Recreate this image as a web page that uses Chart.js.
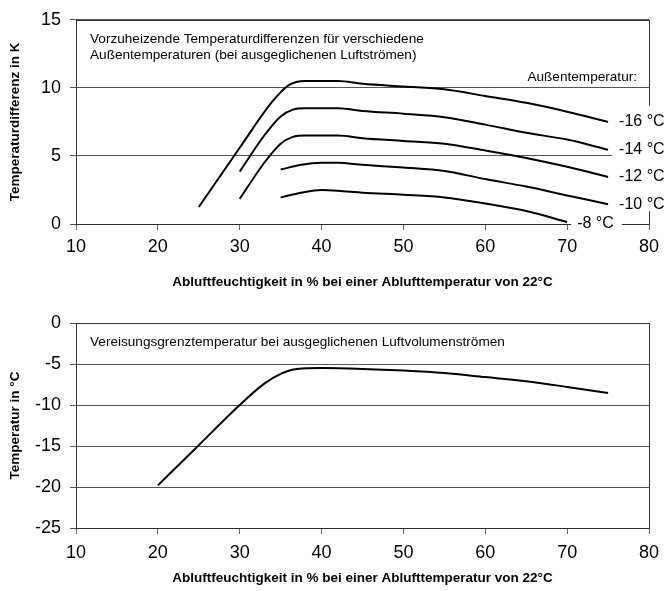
<!DOCTYPE html>
<html>
<head>
<meta charset="utf-8">
<script src="https://cdn.jsdelivr.net/npm/chart.js@4"></script>
<style>
  body { margin: 0; background: #fff; }
  .box { position: absolute; left: 0; width: 664px; }
</style>
</head>
<body>
<div class="box" style="top:0;height:296px"><canvas id="chartTop"></canvas></div>
<div class="box" style="top:296px;height:295px"><canvas id="chartBottom"></canvas></div>
<script>
// top chart: preheating temperature difference per outside temperature
const outsideTemps = ['-16 °C', '-14 °C', '-12 °C', '-10 °C', '-8 °C'];

const humM16 = [25, 30, 34, 36, 38, 40, 42, 45, 50, 55, 60, 65, 70, 75];
const diffM16 = [1.25, 5.6, 9.0, 10.2, 10.5, 10.5, 10.5, 10.3, 10.1, 9.9, 9.4, 8.9, 8.25, 7.5];

const humM14 = [30, 33, 35, 36.5, 38, 40, 42, 45, 50, 55, 60, 65, 70, 75];
const diffM14 = [3.85, 6.5, 7.9, 8.4, 8.5, 8.5, 8.5, 8.3, 8.1, 7.85, 7.3, 6.7, 6.2, 5.45];

const humM12 = [30, 33, 35, 36.5, 38, 40, 42, 45, 50, 55, 60, 65, 70, 75];
const diffM12 = [1.85, 4.5, 5.9, 6.4, 6.5, 6.5, 6.5, 6.3, 6.1, 5.9, 5.4, 4.85, 4.2, 3.45];

const humM10 = [35, 37.5, 40, 42, 45, 50, 55, 60, 65, 70, 75];
const diffM10 = [4.0, 4.35, 4.5, 4.5, 4.35, 4.15, 3.9, 3.3, 2.75, 2.1, 1.45];

const humM8 = [35, 37.5, 40, 42, 45, 50, 55, 60, 65, 70];
const diffM8 = [1.95, 2.3, 2.5, 2.45, 2.3, 2.15, 1.95, 1.5, 0.95, 0.15];

// bottom chart: icing limit temperature
const humIce = [20, 25, 30, 33, 35, 37, 40, 45, 50, 55, 60, 65, 70, 75];
const tempIce = [-19.8, -14.9, -10, -7.4, -6.2, -5.6, -5.5, -5.6, -5.8, -6.1, -6.6, -7.1, -7.8, -8.55];

const xTitle = 'Abluftfeuchtigkeit in % bei einer Ablufttemperatur von 22°C';
const topNote = ['Vorzuheizende Temperaturdifferenzen für verschiedene', 'Außentemperaturen (bei ausgeglichenen Luftströmen)'];
const legendHead = 'Außentemperatur:';
const bottomNote = 'Vereisungsgrenztemperatur bei ausgeglichenen Luftvolumenströmen';

const FONT = "'Liberation Sans', Arial, sans-serif";
Chart.defaults.font.family = FONT;
Chart.defaults.color = '#000';

function pts(xs, ys) {
    return xs.map((x, i) => ({ x: x, y: ys[i] }));
}

function curve(xs, ys) {
    return {
        data: pts(xs, ys),
        borderColor: '#000',
        borderWidth: 2,
        pointRadius: 0,
        fill: false,
        cubicInterpolationMode: 'monotone'
    };
}

function scales(yMin, yMax, yTitle, xHeight, tickPad, titlePad) {
    return {
        x: {
            type: 'linear', min: 10, max: 80,
            ticks: { stepSize: 10, font: { size: 18 }, padding: tickPad, color: '#000', maxRotation: 0, minRotation: 0 },
            grid: { drawOnChartArea: false, tickLength: 6, color: '#666' },
            border: { color: '#333' },
            title: { display: true, text: xTitle, font: { size: 13.5, weight: 'bold' }, color: '#000', padding: { top: 0, bottom: titlePad } },
            afterFit(s) {
                s.height = xHeight;
                // keep the plot edge fixed, the end labels may overhang
                s.paddingLeft = 0;
                s.paddingRight = 0;
            }
        },
        y: {
            type: 'linear', min: yMin, max: yMax,
            ticks: { stepSize: 5, font: { size: 18 }, padding: 9, color: '#000' },
            grid: { color: '#555', tickLength: 6 },
            border: { color: '#333' },
            title: { display: true, text: yTitle, font: { size: 13.5, weight: 'bold' }, color: '#000', padding: { top: 7, bottom: 0 } },
            afterFit(s) { s.width = 76; }
        }
    };
}

function drawFrame(chart) {
    var a = chart.chartArea, ctx = chart.ctx;
    ctx.save();
    ctx.strokeStyle = '#333';
    ctx.lineWidth = 1;
    ctx.strokeRect(Math.round(a.left) + 0.5, Math.round(a.top) + 0.5, Math.round(a.right - a.left), Math.round(a.bottom - a.top));
    ctx.restore();
}

const topPlugin = {
    id: 'topNotes',
    beforeDatasetsDraw(chart) { drawFrame(chart); },
    afterDatasetsDraw(chart) {
        var ctx = chart.ctx, xs = chart.scales.x, ys = chart.scales.y, a = chart.chartArea;
        ctx.save();
        ctx.font = '13.6px ' + FONT;
        ctx.fillStyle = '#000';
        ctx.textBaseline = 'middle';
        ctx.textAlign = 'left';
        ctx.fillText(topNote[0], a.left + 14, a.top + 19);
        ctx.fillText(topNote[1], a.left + 14, a.top + 35);
        ctx.textAlign = 'right';
        ctx.fillText(legendHead, a.right - 12, ys.getPixelForValue(10) - 11);

        // white box with the end labels, covers grid and right border
        var ends = [diffM16, diffM14, diffM12, diffM10];
        var yFirst = ys.getPixelForValue(ends[0][ends[0].length - 1]);
        var yLast = ys.getPixelForValue(ends[3][ends[3].length - 1]);
        var bx = xs.getPixelForValue(75) + 4;
        ctx.fillStyle = '#fff';
        ctx.fillRect(bx, yFirst - 16, chart.width - bx, yLast - yFirst + 23);
        ctx.fillStyle = '#000';
        ctx.textAlign = 'left';
        ctx.font = '16px ' + FONT;
        ends.forEach((d, i) => {
            ctx.fillText(outsideTemps[i], bx + 7, ys.getPixelForValue(d[d.length - 1]));
        });
        // -8 °C sits on the x axis
        var x8 = xs.getPixelForValue(humM8[humM8.length - 1]) + 4;
        var w8 = ctx.measureText(outsideTemps[4]).width + 14;
        ctx.fillStyle = '#fff';
        ctx.fillRect(x8, a.bottom - 9, w8, 17);
        ctx.fillStyle = '#000';
        ctx.fillText(outsideTemps[4], x8 + 6, a.bottom);
        ctx.restore();
    }
};

const bottomPlugin = {
    id: 'bottomNotes',
    beforeDatasetsDraw(chart) { drawFrame(chart); },
    afterDatasetsDraw(chart) {
        var ctx = chart.ctx, a = chart.chartArea;
        ctx.save();
        ctx.font = '13.6px ' + FONT;
        ctx.fillStyle = '#000';
        ctx.textBaseline = 'middle';
        ctx.fillText(bottomNote, a.left + 14, a.top + 19);
        ctx.restore();
    }
};

new Chart(document.getElementById('chartTop').getContext('2d'), {
    type: 'line',
    data: {
        datasets: [
            curve(humM16, diffM16),
            curve(humM14, diffM14),
            curve(humM12, diffM12),
            curve(humM10, diffM10),
            curve(humM8, diffM8)
        ]
    },
    options: {
        responsive: true,
        maintainAspectRatio: false,
        animation: false,
        layout: { padding: { left: 0, right: 15, top: 19, bottom: 0 } },
        plugins: { legend: { display: false }, tooltip: { enabled: false } },
        scales: scales(0, 15, 'Temperaturdifferenz in K', 72, 6, 6)
    },
    plugins: [topPlugin]
});

new Chart(document.getElementById('chartBottom').getContext('2d'), {
    type: 'line',
    data: {
        datasets: [curve(humIce, tempIce)]
    },
    options: {
        responsive: true,
        maintainAspectRatio: false,
        animation: false,
        layout: { padding: { left: 0, right: 15, top: 27, bottom: 0 } },
        plugins: { legend: { display: false }, tooltip: { enabled: false } },
        scales: scales(-25, 0, 'Temperatur in °C', 63, 8, 5)
    },
    plugins: [bottomPlugin]
});
</script>
</body>
</html>
